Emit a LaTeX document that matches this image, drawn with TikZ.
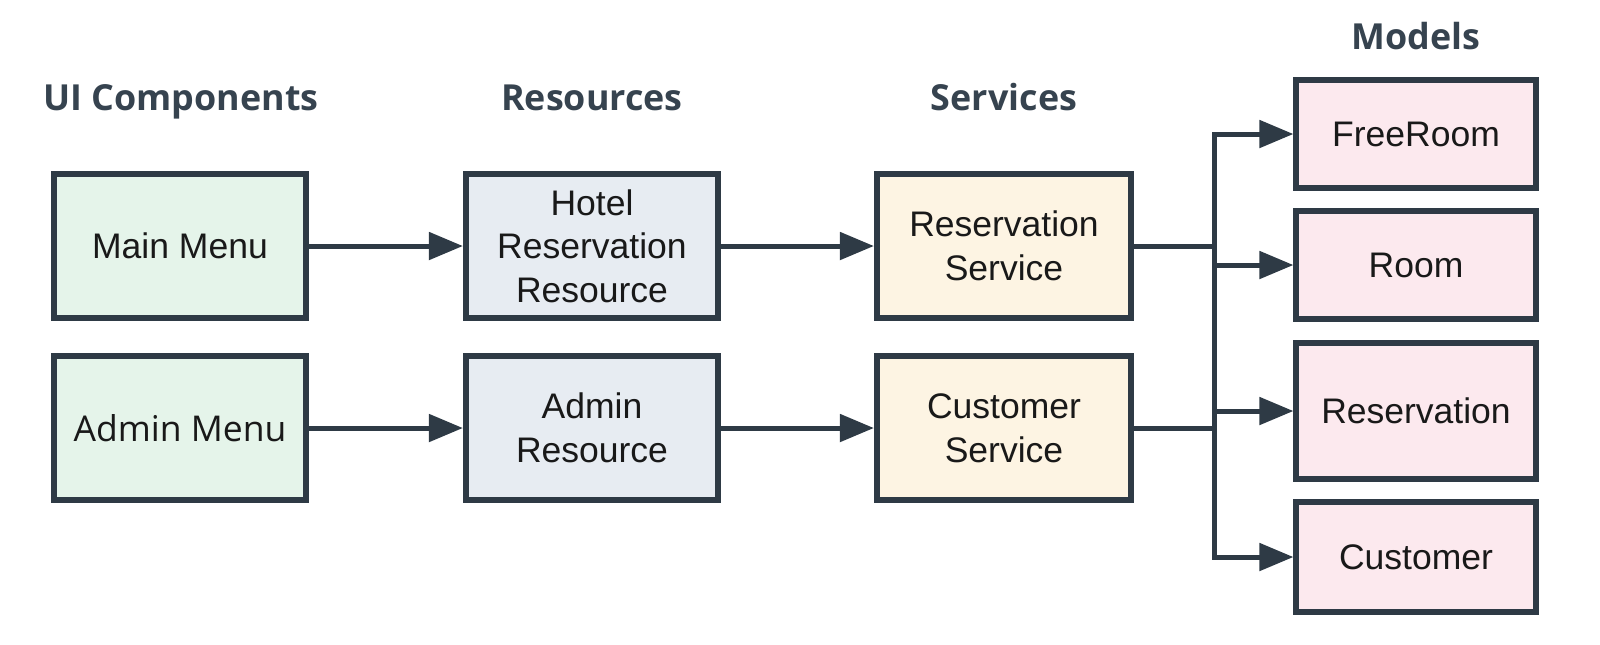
\documentclass[tikz,border=0pt]{standalone}
\usepackage{fontspec}
\setmainfont{Liberation Sans}
\newfontfamily\headfont{Open Sans}
\usetikzlibrary{arrows.meta}

\definecolor{ink}{HTML}{2E3A45}
\definecolor{headcol}{HTML}{36434F}
\definecolor{uifill}{HTML}{E5F4EA}
\definecolor{resfill}{HTML}{E7ECF2}
\definecolor{svcfill}{HTML}{FDF4E3}
\definecolor{mdlfill}{HTML}{FCE9EE}

\tikzset{
  box/.style={draw=ink, line width=0.06cm, align=center, inner sep=0pt,
              font=\fontsize{10.1}{12.4}\selectfont, text=black!90},
  uibox/.style={box, fill=uifill, minimum width=2.52cm, minimum height=1.44cm},
  resbox/.style={box, fill=resfill, minimum width=2.52cm, minimum height=1.44cm},
  svcbox/.style={box, fill=svcfill, minimum width=2.54cm, minimum height=1.44cm},
  mdlbox/.style={box, fill=mdlfill, minimum width=2.39cm},
  head/.style={anchor=base, font=\headfont\bfseries\fontsize{10.2}{12}\selectfont, text=headcol},
  link/.style={draw=ink, line width=0.05cm},
  arr/.style={link, -{Triangle[length=0.34cm, width=0.27cm]}},
}

\begin{document}
\begin{tikzpicture}[x=0.01cm, y=-0.01cm]
  \useasboundingbox (0,0) rectangle (1600,644);

  % column headings
  \node[head] (hui)  at (181,110)   {UI Components};
  \node[head] (hres) at (592,110)   {Resources};
  \node[head] (hsvc) at (1004,110)  {Services};
  \node[head] (hmdl) at (1416,49)   {Models};

  % ui / resources / services
  \node[uibox]  (mainmenu)  at (180,246)  {Main Menu};
  \node[uibox]  (adminmenu) at (180,428)  {\headfont Admin Menu};
  \node[resbox] (hotelres)  at (592,246)  {Hotel\\Reservation\\Resource};
  \node[resbox] (adminres)  at (592,428)  {Admin\\Resource};
  \node[svcbox] (ressvc)    at (1004,246) {Reservation\\Service};
  \node[svcbox] (custsvc)   at (1004,428) {Customer\\Service};

  % models
  \node[mdlbox, minimum height=1.07cm] (freeroom) at (1416,134) {FreeRoom};
  \node[mdlbox, minimum height=1.08cm] (room)     at (1416,265) {Room};
  \node[mdlbox, minimum height=1.35cm] (resv)     at (1416,411) {Reservation};
  \node[mdlbox, minimum height=1.10cm] (cust)     at (1416,557) {Customer};

  \draw[arr] (mainmenu) -- (hotelres);
  \draw[arr] (adminmenu) -- (adminres);
  \draw[arr] (hotelres) -- (ressvc);
  \draw[arr] (adminres) -- (custsvc);

  \coordinate (bus) at (1214,0);
  \draw[link] (ressvc.east) -- (bus |- ressvc.east);
  \draw[link] (custsvc.east) -- (bus |- custsvc.east);
  \draw[link, line cap=rect] (bus |- freeroom.west) -- (bus |- cust.west);
  \foreach \m in {freeroom,room,resv,cust}
    \draw[arr] (bus |- \m.west) -- (\m.west);
\end{tikzpicture}
\end{document}
